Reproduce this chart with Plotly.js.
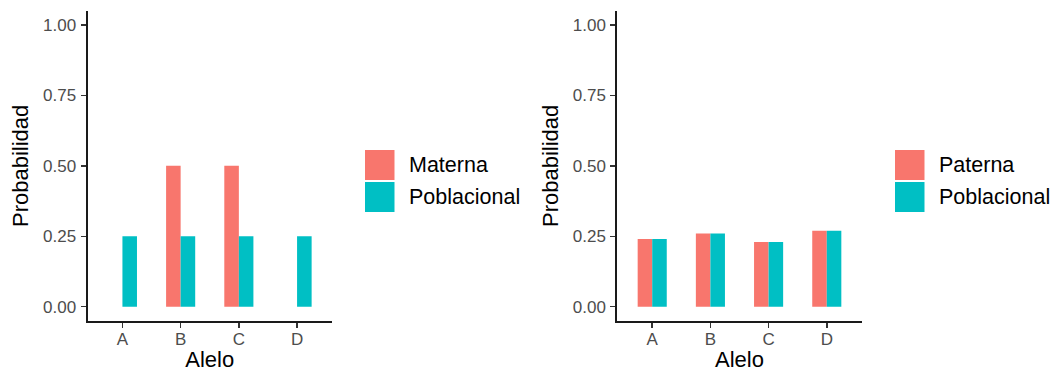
<!DOCTYPE html>
<html>
<head>
<meta charset="utf-8">
<script src="https://cdn.plot.ly/plotly-3.0.1.min.js"></script>
<style>html,body{margin:0;padding:0;background:#fff;}#chart{width:1057px;height:372px;}</style>
</head>
<body>
<div id="chart"></div>
<script>
// ---- data ----
const alelos = ["A", "B", "C", "D"];
const materna = [0, 0.5, 0.5, 0];
const poblacionalIzq = [0.25, 0.25, 0.25, 0.25];
const paterna = [0.24, 0.26, 0.23, 0.27];
const poblacionalDer = [0.24, 0.26, 0.23, 0.27];
const yTicks = [0, 0.25, 0.5, 0.75, 1];
const yTickLabels = ["0.00", "0.25", "0.50", "0.75", "1.00"];
const legendIzq = ["Materna", "Poblacional"];
const legendDer = ["Paterna", "Poblacional"];

// ---- style ----
const RED = "#F8766D", TEAL = "#00BFC4";
const W = 1057, H = 372;
const FONT = "Liberation Sans, Arial, Helvetica, sans-serif";
const px = v => v / W;
const py = v => 1 - v / H;

const traces = [
  {type: "bar", x: alelos, y: materna, name: legendIzq[0], marker: {color: RED, line: {width: 0}}, xaxis: "x", yaxis: "y", showlegend: false},
  {type: "bar", x: alelos, y: poblacionalIzq, name: legendIzq[1], marker: {color: TEAL, line: {width: 0}}, xaxis: "x", yaxis: "y", showlegend: false},
  {type: "bar", x: alelos, y: paterna, name: legendDer[0], marker: {color: RED, line: {width: 0}}, xaxis: "x2", yaxis: "y2", showlegend: false},
  {type: "bar", x: alelos, y: poblacionalDer, name: legendDer[1], marker: {color: TEAL, line: {width: 0}}, xaxis: "x2", yaxis: "y2", showlegend: false}
];

function xAxis(domain, anchor) {
  return {
    domain: domain, anchor: anchor, type: "category", range: [-0.6, 3.6],
    showline: true, linecolor: "#1a1a1a", linewidth: 2, mirror: false,
    showgrid: false, zeroline: false,
    ticks: "outside", ticklen: 5, tickwidth: 1.5, tickcolor: "#333333",
    tickfont: {family: FONT, size: 17, color: "#4D4D4D"},
    ticklabelstandoff: -3,
    title: {text: "Alelo", font: {family: FONT, size: 22, color: "#000"}, standoff: 5},
    automargin: false, fixedrange: true
  };
}
function yAxis(domain, anchor) {
  return {
    domain: domain, anchor: anchor, range: [-0.05, 1.05],
    showline: true, linecolor: "#1a1a1a", linewidth: 2,
    showgrid: false, zeroline: false,
    tickmode: "array", tickvals: yTicks, ticktext: yTickLabels,
    ticks: "outside", ticklen: 5, tickwidth: 1.5, tickcolor: "#333333",
    tickfont: {family: FONT, size: 17, color: "#4D4D4D"},
    ticklabelstandoff: 1,
    title: {text: "Probabilidad", font: {family: FONT, size: 22, color: "#000"}, standoff: 8},
    automargin: false, fixedrange: true
  };
}

const yDom = [py(320.8), py(10.9)];

function legendShapes(x0, labels) {
  const shapes = [
    {type: "rect", xref: "paper", yref: "paper", x0: px(x0), x1: px(x0 + 29.5), y0: py(180), y1: py(150), fillcolor: RED, line: {width: 0}},
    {type: "rect", xref: "paper", yref: "paper", x0: px(x0), x1: px(x0 + 29.5), y0: py(212), y1: py(182), fillcolor: TEAL, line: {width: 0}}
  ];
  const anns = [
    {xref: "paper", yref: "paper", x: px(x0 + 42), y: py(165), text: labels[0], showarrow: false, xanchor: "left", yanchor: "middle", font: {family: FONT, size: 21.5, color: "#000"}},
    {xref: "paper", yref: "paper", x: px(x0 + 42), y: py(197), text: labels[1], showarrow: false, xanchor: "left", yanchor: "middle", font: {family: FONT, size: 21.5, color: "#000"}}
  ];
  return {shapes, anns};
}
const lg1 = legendShapes(365, legendIzq);
const lg2 = legendShapes(895, legendDer);

const layout = {
  width: W, height: H,
  margin: {l: 0, r: 0, t: 0, b: 0},
  paper_bgcolor: "#fff", plot_bgcolor: "#fff",
  barmode: "group", bargap: 0.5, bargroupgap: 0,
  showlegend: false,
  font: {family: FONT},
  xaxis: xAxis([px(87.5), px(332)], "y"),
  yaxis: yAxis(yDom, "x"),
  xaxis2: xAxis([px(617.3), px(861.7)], "y2"),
  yaxis2: yAxis(yDom, "x2"),
  shapes: lg1.shapes.concat(lg2.shapes),
  annotations: lg1.anns.concat(lg2.anns)
};

Plotly.newPlot("chart", traces, layout, {displayModeBar: false, staticPlot: true});
</script>
</body>
</html>
